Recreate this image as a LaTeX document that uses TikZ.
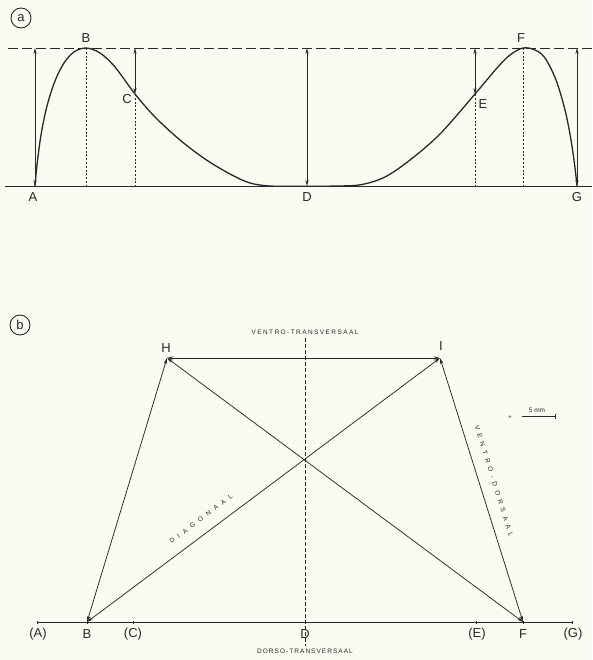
\documentclass[tikz,border=0pt]{standalone}
\usepackage{fontspec}
\setmainfont{Liberation Sans}
\newfontfamily\spacedA[LetterSpace=22]{Liberation Sans}
\newfontfamily\spacedB[LetterSpace=16]{Liberation Sans}
\newfontfamily\spacedC[LetterSpace=66]{Liberation Sans}
\newfontfamily\spacedD[LetterSpace=75]{Liberation Sans}
\usetikzlibrary{arrows.meta}
\definecolor{paper}{RGB}{251,250,243}
\definecolor{ink}{RGB}{40,40,40}
\begin{document}
\begin{tikzpicture}[x=1pt,y=-1pt,
  every node/.style={text=ink, inner sep=0pt},
  lbl/.style={font=\fontsize{13}{13}\selectfont},
  dimarrow/.style={draw=ink, line width=0.75pt, {Stealth[length=6pt,width=3.2pt]}-{Stealth[length=6pt,width=3.2pt]}},
  guide/.style={draw=ink, line width=0.75pt, dash pattern=on 2pt off 1.8pt},
  topline/.style={draw=ink, line width=0.75pt, dash pattern=on 10pt off 4pt},
  base/.style={draw=ink, line width=0.75pt},
  curve/.style={draw=ink, line width=1.3pt},
  circ/.style={circle, draw=ink, line width=0.9pt, minimum size=20pt, font=\fontsize{13}{13}\selectfont},
  tick/.style={draw=ink, line width=0.9pt}
]
\fill[paper] (0,0) rectangle (592,660);
\useasboundingbox (0,0) rectangle (592,660);

% ---------------- panel a ----------------
\node[circ] (pa) at (21,18) {a};
\coordinate (L0) at (5,186);
\coordinate (L1) at (592,186);
\coordinate (T0) at (8,48);
\coordinate (T1) at (592,48);
\draw[base] (L0) -- (L1);
\draw[topline] (T0) -- (T1);

\coordinate (A) at (35,186);  \coordinate (At) at (35,48);
\coordinate (B) at (86,48);   \coordinate (Bb) at (86,186);
\coordinate (C) at (135,94);  \coordinate (Ct) at (135,48); \coordinate (Cb) at (135,186);
\coordinate (D) at (307,186); \coordinate (Dt) at (307,48);
\coordinate (E) at (475,94);  \coordinate (Et) at (475,48); \coordinate (Eb) at (475,186);
\coordinate (F) at (523,48);  \coordinate (Fb) at (523,186);
\coordinate (G) at (577,186); \coordinate (Gt) at (577,48);

\draw[guide] (B) -- (Bb);
\draw[guide] (C) -- (Cb);
\draw[guide] (E) -- (Eb);
\draw[guide] (F) -- (Fb);

\draw[dimarrow] (At) -- (A);
\draw[dimarrow] (Ct) -- (C);
\draw[dimarrow] (Dt) -- (D);
\draw[dimarrow] (Et) -- (E);
\draw[dimarrow] (Gt) -- (G);

\draw[curve] plot[smooth, tension=0.55] coordinates {
 (35,186) (37,165) (41,135) (47,106) (55,81) (64,63) (74,52) (86,48)
 (100,53) (115,67) (135,94) (155,117) (180,140) (205,159) (230,174) (250,183) (270,186)
 (300,186.2) (340,186) (362,184.5) (385,177) (410,160) (440,134) (475,94) (497,68) (510,55) (523,48)
 (535,50) (545,58) (556,80) (565,110) (571,140) (575,168) (577,186)};

\node[lbl] (lA) at (33,197) {A};
\node[lbl] (lB) at (86,38) {B};
\node[lbl] (lC) at (127,99) {C};
\node[lbl] (lD) at (307,197) {D};
\node[lbl] (lE) at (483,104) {E};
\node[lbl] (lF) at (521,38) {F};
\node[lbl] (lG) at (577,197) {G};

% ---------------- panel b ----------------
\node[circ] (pb) at (20,325) {b};

\coordinate (bA) at (37,622);
\coordinate (bB) at (87,622);
\coordinate (bC) at (133,622);
\coordinate (bD) at (305,622);
\coordinate (bE) at (476,622);
\coordinate (bF) at (523,622);
\coordinate (bG) at (572,622);
\coordinate (H) at (167,358);
\coordinate (I) at (440,358);
\coordinate (Vt) at (305,338);
\coordinate (Vb) at (305,646);

\draw[dash pattern=on 3.5pt off 2.5pt, draw=ink, line width=0.75pt] (Vt) -- (Vb);
\draw[base] (bA) -- (bG);
\foreach \p in {bA,bB,bC,bD,bE,bF,bG}
  \draw[tick] ([yshift=-1.5pt]\p) -- ([yshift=1.5pt]\p);

\draw[dimarrow] (H) -- (I);
\draw[dimarrow] (bB) -- (H);
\draw[dimarrow] (bB) -- (I);
\draw[dimarrow] (bF) -- (H);
\draw[dimarrow] (bF) -- (I);

\node[lbl] (lH) at (166,348) {H};
\node[lbl] (lI) at (441,346) {I};
\node[lbl] (lbA) at (38,634) {(A)};
\node[lbl] (lbB) at (87,634) {B};
\node[lbl] (lbC) at (133,634) {(C)};
\node[lbl] (lbD) at (305,634) {D};
\node[lbl] (lbE) at (477,634) {(E)};
\node[lbl] (lbF) at (523,634) {F};
\node[lbl] (lbG) at (573,634) {(G)};

\node[font=\spacedA\fontsize{6.5}{7}\selectfont] (vt) at (305,332) {VENTRO-TRANSVERSAAL};
\node[font=\spacedB\fontsize{6.5}{7}\selectfont] (dt) at (305,651) {DORSO-TRANSVERSAAL};
\node[font=\spacedD\fontsize{6.5}{7}\selectfont, rotate=36.8] (dg) at (201,519) {DIAGONAAL};
\node[font=\spacedC\fontsize{6.5}{7}\selectfont, rotate=-72.6] (vd) at (494,481) {VENTRO-DORSAAL};

% scale bar
\coordinate (s1) at (522,416);
\coordinate (s2) at (555,416);
\draw[draw=ink, line width=0.8pt] (s1) -- (s2);
\draw[draw=ink, line width=0.8pt] ([yshift=-2.5pt]s2) -- ([yshift=2.5pt]s2);
\node[font=\fontsize{6.5}{7}\selectfont] (sm) at (537,410) {5 mm};
\node[font=\fontsize{6.5}{7}\selectfont] (sp) at (510,418) {+};
\end{tikzpicture}
\end{document}
